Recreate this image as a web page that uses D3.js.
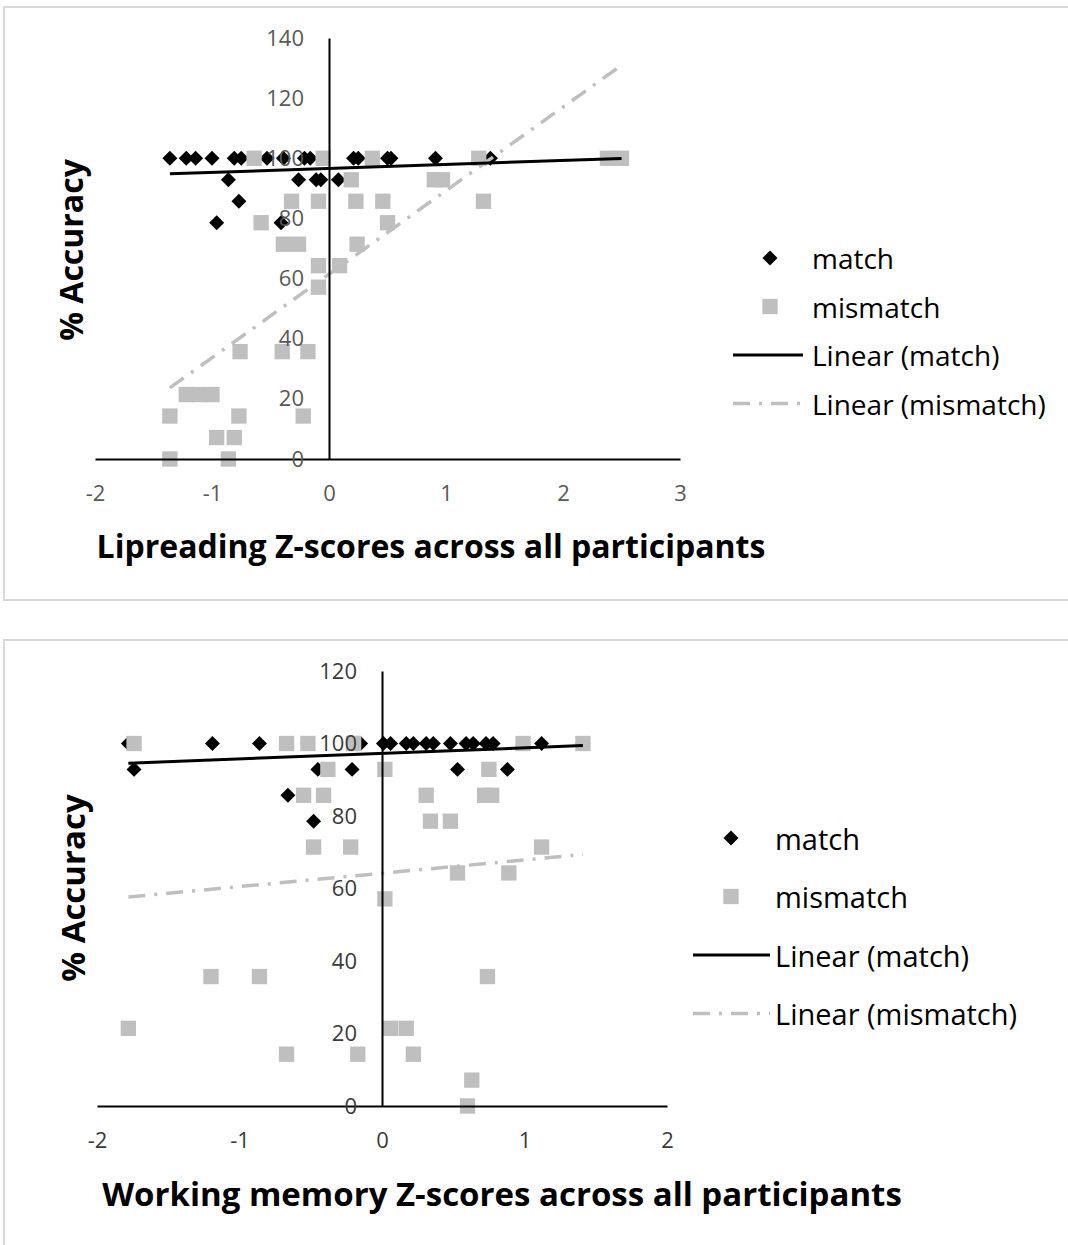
<!DOCTYPE html>
<html>
<head>
<meta charset="utf-8">
<script src="https://cdn.jsdelivr.net/npm/d3@7"></script>
<style>
  body { margin: 0; background: #fff; }
  svg { display: block; }
  text { font-family: "Open Sans", Lato, sans-serif; }
</style>
</head>
<body>
<div id="chart"></div>
<script>
// values (accuracy steps are 1/14 of 100)
// a few points sit exactly under other markers - inferred from where the trendlines run

// top panel - lipreading
var lipMatchZ = [-1.36, -1.22, -1.14, -1.00, -0.81, -0.75, -0.64, -0.53, -0.39, -0.21, -0.16, -0.05, 0.21, 0.25, 0.50, 0.53, 0.91, 1.38, 2.50,
                 -0.86, -0.26, -0.11, -0.07, 0.08, 0.93,
                 -0.77,
                 -0.96, -0.41];
var lipMatchAcc = [100, 100, 100, 100, 100, 100, 100, 100, 100, 100, 100, 100, 100, 100, 100, 100, 100, 100, 100,
                   92.86, 92.86, 92.86, 92.86, 92.86, 92.86,
                   85.71,
                   78.57, 78.57];
var lipMismatchZ = [-0.64, -0.05, 0.37, 1.28, 2.38, 2.50,
                    0.19, 0.90, 0.97,
                    -0.32, -0.09, 0.23, 0.46, 1.32,
                    -0.58, 0.50,
                    -0.39, -0.26, 0.24,
                    -0.09, 0.09,
                    -0.09,
                    -0.76, -0.40, -0.18,
                    -1.22, -1.11, -1.00,
                    -1.36, -0.77, -0.22,
                    -0.96, -0.81,
                    -1.36, -0.86];
var lipMismatchAcc = [100, 100, 100, 100, 100, 100,
                      92.86, 92.86, 92.86,
                      85.71, 85.71, 85.71, 85.71, 85.71,
                      78.57, 78.57,
                      71.43, 71.43, 71.43,
                      64.29, 64.29,
                      57.14,
                      35.71, 35.71, 35.71,
                      21.43, 21.43, 21.43,
                      14.29, 14.29, 14.29,
                      7.14, 7.14,
                      0, 0];
var lipXTicks = [-2, -1, 0, 1, 2, 3];
var lipYTicks = [0, 20, 40, 60, 80, 100, 120, 140];

// bottom panel - working memory
var wmMatchZ = [-1.78, -1.19, -0.86, -0.67, -0.52, -0.15, 0.01, 0.06, 0.17, 0.22, 0.31, 0.36, 0.48, 0.59, 0.64, 0.73, 0.78, 1.12, 1.41,
                -1.74, -0.45, -0.21, 0.53, 0.88,
                -0.66,
                -0.48];
var wmMatchAcc = [100, 100, 100, 100, 100, 100, 100, 100, 100, 100, 100, 100, 100, 100, 100, 100, 100, 100, 100,
                  92.86, 92.86, 92.86, 92.86, 92.86,
                  85.71,
                  78.57];
var wmMismatchZ = [-1.74, -0.67, -0.52, -0.20, -0.20, 0.99, 1.41,
                   -0.38, 0.02, 0.75,
                   -0.55, -0.41, 0.31, 0.72, 0.77,
                   0.34, 0.48,
                   -0.48, -0.22, 1.12,
                   0.53, 0.89,
                   0.02,
                   -1.20, -0.86, 0.74,
                   -1.78, 0.06, 0.17,
                   -0.67, -0.17, 0.22,
                   0.63,
                   0.60];
var wmMismatchAcc = [100, 100, 100, 100, 100, 100, 100,
                     92.86, 92.86, 92.86,
                     85.71, 85.71, 85.71, 85.71, 85.71,
                     78.57, 78.57,
                     71.43, 71.43, 71.43,
                     64.29, 64.29,
                     57.14,
                     35.71, 35.71, 35.71,
                     21.43, 21.43, 21.43,
                     14.29, 14.29, 14.29,
                     7.14,
                     0];
var wmXTicks = [-2, -1, 0, 1, 2];
var wmYTicks = [0, 20, 40, 60, 80, 100, 120];

var legendLabels = ['match', 'mismatch', 'Linear (match)', 'Linear (mismatch)'];

var MATCH_COLOR = '#000000';
var MISMATCH_COLOR = '#bfbfbf';
var DASH = '17 9 3 9';

function zip(xs, ys) {
  return xs.map(function(x, i) { return { x: x, y: ys[i] }; });
}

// ordinary least squares, same as excel's linear trendline
function fitLine(pts) {
  var mx = d3.mean(pts, function(d) { return d.x; });
  var my = d3.mean(pts, function(d) { return d.y; });
  var sxy = d3.sum(pts, function(d) { return (d.x - mx) * (d.y - my); });
  var sxx = d3.sum(pts, function(d) { return (d.x - mx) * (d.x - mx); });
  var b = sxy / sxx;
  var a = my - b * mx;
  var ext = d3.extent(pts, function(d) { return d.x; });
  return [{ x: ext[0], y: a + b * ext[0] }, { x: ext[1], y: a + b * ext[1] }];
}

var svg = d3.select('#chart').append('svg')
  .attr('width', 1068)
  .attr('height', 1245);

var diamond = d3.symbol().type(d3.symbolSquare).size(112);
var square = d3.symbol().type(d3.symbolSquare).size(235);

function drawPanel(cfg) {
  var g = svg.append('g');

  g.append('rect')
    .attr('x', 4).attr('y', cfg.boxTop)
    .attr('width', 1080).attr('height', cfg.boxHeight)
    .attr('fill', 'none')
    .attr('stroke', '#d9d9d9')
    .attr('stroke-width', 2);

  var x = d3.scaleLinear().domain(cfg.xDomain).range(cfg.xRange);
  var y = d3.scaleLinear().domain(cfg.yDomain).range(cfg.yRange);

  var match = zip(cfg.matchZ, cfg.matchAcc);
  var mismatch = zip(cfg.mismatchZ, cfg.mismatchAcc);

  // axes (crossing at 0,0)
  var xAxis = g.append('g')
    .attr('transform', 'translate(0,' + y(0) + ')')
    .call(d3.axisBottom(x).tickValues(cfg.xTicks).tickSize(0).tickPadding(cfg.xPad)
      .tickFormat(function(d) { return String(d); }));
  var yAxis = g.append('g')
    .attr('transform', 'translate(' + x(0) + ',0)')
    .call(d3.axisLeft(y).tickValues(cfg.yTicks).tickSize(0).tickPadding(cfg.yPad)
      .tickFormat(function(d) { return String(d); }));

  [xAxis, yAxis].forEach(function(ax) {
    ax.select('.domain').attr('stroke', '#000').attr('stroke-width', 2);
    ax.selectAll('text')
      .attr('fill', cfg.tickColor)
      .style('font-size', cfg.tickSize + 'px')
      .style('font-family', '"Open Sans", sans-serif');
  });

  // markers
  g.append('g').selectAll('path')
    .data(match)
    .enter().append('path')
    .attr('d', diamond)
    .attr('transform', function(d) { return 'translate(' + x(d.x) + ',' + y(d.y) + ') rotate(45)'; })
    .attr('fill', MATCH_COLOR);

  g.append('g').selectAll('path')
    .data(mismatch)
    .enter().append('path')
    .attr('d', square)
    .attr('transform', function(d) { return 'translate(' + x(d.x) + ',' + y(d.y) + ')'; })
    .attr('fill', MISMATCH_COLOR);

  var line = d3.line()
    .x(function(d) { return x(d.x); })
    .y(function(d) { return y(d.y); });

  g.append('path')
    .datum(fitLine(mismatch))
    .attr('d', line)
    .attr('fill', 'none')
    .attr('stroke', MISMATCH_COLOR)
    .attr('stroke-width', 3.5)
    .attr('stroke-dasharray', DASH);

  g.append('path')
    .datum(fitLine(match))
    .attr('d', line)
    .attr('fill', 'none')
    .attr('stroke', '#000')
    .attr('stroke-width', 3);

  // bring tick labels over the markers like excel
  xAxis.raise();
  yAxis.raise();

  // titles
  g.append('text')
    .attr('x', cfg.xTitlePos[0]).attr('y', cfg.xTitlePos[1])
    .attr('text-anchor', 'middle')
    .attr('dominant-baseline', 'central')
    .style('font-size', cfg.titleSize + 'px')
    .style('font-weight', 'bold')
    .attr('fill', '#000')
    .text(cfg.xTitle);

  g.append('text')
    .attr('transform', 'translate(' + cfg.yTitlePos[0] + ',' + cfg.yTitlePos[1] + ') rotate(-90)')
    .attr('text-anchor', 'middle')
    .attr('dominant-baseline', 'central')
    .style('font-size', cfg.titleSize + 'px')
    .style('font-weight', 'bold')
    .attr('fill', '#000')
    .text('% Accuracy');

  // legend
  var lg = g.append('g');
  var lx = cfg.legendX, ly = cfg.legendY, step = cfg.legendStep;
  lg.append('path')
    .attr('d', diamond)
    .attr('transform', 'translate(' + (lx + cfg.legendSym) + ',' + ly + ') rotate(45)')
    .attr('fill', MATCH_COLOR);
  lg.append('path')
    .attr('d', square)
    .attr('transform', 'translate(' + (lx + cfg.legendSym) + ',' + (ly + step) + ')')
    .attr('fill', MISMATCH_COLOR);
  lg.append('line')
    .attr('x1', lx).attr('x2', lx + cfg.legendLine)
    .attr('y1', ly + 2 * step).attr('y2', ly + 2 * step)
    .attr('stroke', '#000').attr('stroke-width', 3);
  lg.append('line')
    .attr('x1', lx).attr('x2', lx + cfg.legendLine)
    .attr('y1', ly + 3 * step).attr('y2', ly + 3 * step)
    .attr('stroke', MISMATCH_COLOR).attr('stroke-width', 3.5)
    .attr('stroke-dasharray', DASH);

  lg.selectAll('text')
    .data(legendLabels)
    .enter().append('text')
    .attr('x', lx + cfg.legendLine + cfg.legendGap)
    .attr('y', function(d, i) { return ly + i * step; })
    .attr('dominant-baseline', 'central')
    .style('font-size', cfg.legendSize + 'px')
    .attr('fill', '#000')
    .text(function(d) { return d; });
}

drawPanel({
  boxTop: 7, boxHeight: 593,
  xDomain: [-2, 3], xRange: [95, 680],
  yDomain: [0, 140], yRange: [459, 38],
  xTicks: lipXTicks, yTicks: lipYTicks,
  xPad: 26, yPad: 25, tickSize: 22, tickColor: '#595959',
  matchZ: lipMatchZ, matchAcc: lipMatchAcc,
  mismatchZ: lipMismatchZ, mismatchAcc: lipMismatchAcc,
  xTitle: 'Lipreading Z-scores across all participants',
  xTitlePos: [431, 545], yTitlePos: [70, 250], titleSize: 32,
  legendX: 733, legendY: 258, legendStep: 48.5, legendSym: 37, legendLine: 70, legendGap: 9, legendSize: 28
});

drawPanel({
  boxTop: 640, boxHeight: 620,
  xDomain: [-2, 2], xRange: [97, 667],
  yDomain: [0, 120], yRange: [1106, 671],
  xTicks: wmXTicks, yTicks: wmYTicks,
  xPad: 26, yPad: 25, tickSize: 22, tickColor: '#3a3a3a',
  matchZ: wmMatchZ, matchAcc: wmMatchAcc,
  mismatchZ: wmMismatchZ, mismatchAcc: wmMismatchAcc,
  xTitle: 'Working memory Z-scores across all participants',
  xTitlePos: [502, 1193], yTitlePos: [72, 888], titleSize: 33,
  legendX: 693, legendY: 838, legendStep: 58.5, legendSym: 38, legendLine: 77, legendGap: 5, legendSize: 29
});
</script>
</body>
</html>
